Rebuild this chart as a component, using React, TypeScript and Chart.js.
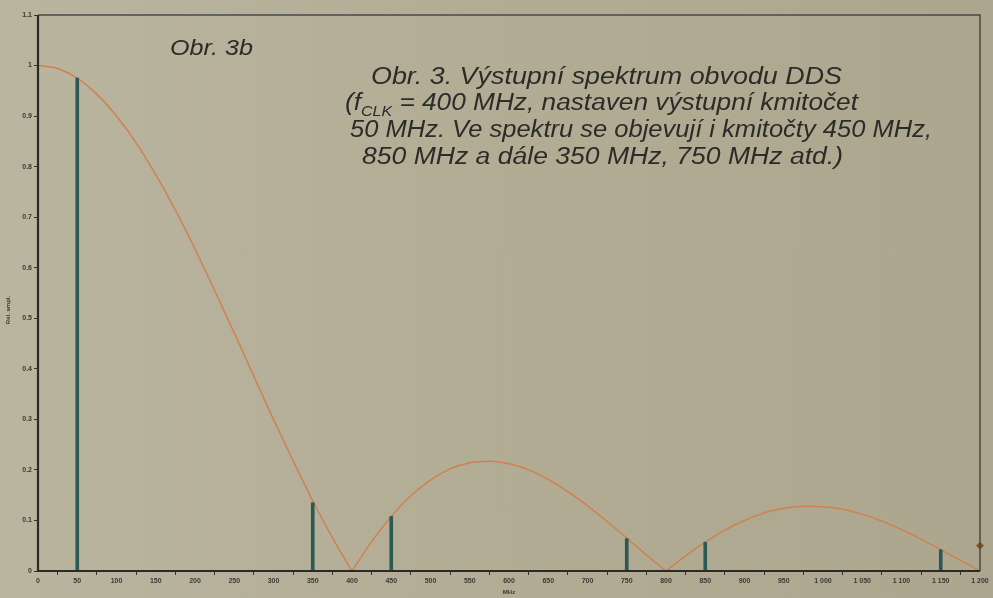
import React, { useEffect, useRef } from "react";
import { Chart, registerables } from "chart.js";
Chart.register(...registerables);

// Envelope of the spectrum (relative amplitude), every 25 MHz
const curveFreq = [0, 25, 50, 75, 100, 125, 150, 175, 200, 225, 250, 275, 300, 325, 350, 375, 400, 425, 450, 475, 500, 525, 550, 575, 600, 625, 650, 675, 700, 725, 750, 775, 800, 825, 850, 875, 900, 925, 950, 975, 1000, 1025, 1050, 1075, 1100, 1125, 1150, 1175, 1200];
const curveAmp = [1.0, 0.994, 0.975, 0.943, 0.9, 0.847, 0.784, 0.714, 0.637, 0.555, 0.471, 0.385, 0.3, 0.218, 0.139, 0.066, 0.0, 0.058, 0.108, 0.149, 0.18, 0.202, 0.214, 0.217, 0.212, 0.2, 0.181, 0.157, 0.129, 0.098, 0.065, 0.032, 0.0, 0.03, 0.057, 0.081, 0.1, 0.115, 0.124, 0.128, 0.127, 0.122, 0.112, 0.099, 0.082, 0.063, 0.042, 0.021, 0.0];
// lobe boundaries (the zeros of the envelope), in MHz
const lobeEdges = [0, 400, 800, 1200];

// Spectral lines
const lineFreq = [50, 350, 450, 750, 850, 1150];
const lineAmp = [0.975, 0.135, 0.108, 0.064, 0.057, 0.042];

// Small cursor mark on the right edge
const markFreq = [1200];
const markAmp = [0.05];

const xTickLabels = ["0", "50", "100", "150", "200", "250", "300", "350", "400", "450", "500", "550", "600", "650", "700", "750", "800", "850", "900", "950", "1 000", "1 050", "1 100", "1 150", "1 200"];
const yTickLabels = ["0", "0.1", "0.2", "0.3", "0.4", "0.5", "0.6", "0.7", "0.8", "0.9", "1", "1.1"];

const yTitle = "Rel. ampl.";
const xTitle = "MHz";
const figLabel = "Obr. 3b";
const captionLines = [
  "Obr. 3. Výstupní spektrum obvodu DDS",
  "(f|CLK| = 400 MHz, nastaven výstupní kmitočet",
  "50 MHz. Ve spektru se objevují i kmitočty 450 MHz,",
  "850 MHz a dále 350 MHz, 750 MHz atd.)",
];

const FONT = "'Liberation Sans', Arial, sans-serif";

export default function App() {
  const ref = useRef<HTMLCanvasElement>(null);

  useEffect(() => {
    document.body.style.margin = "0";
    const canvas = ref.current!;
    const ctx = canvas.getContext("2d")!;

    // draws a line (with optional |subscript| parts) stretched to a target width
    const drawLine = (c: CanvasRenderingContext2D, line: string, x0: number, base: number, size: number, targetW: number) => {
      const parts = line.split("|");
      const fontMain = "italic " + size + "px " + FONT;
      const fontSub = "italic " + Math.round(size * 0.6) + "px " + FONT;
      let w = 0;
      parts.forEach((p, k) => {
        c.font = k % 2 === 1 ? fontSub : fontMain;
        w += c.measureText(p).width;
      });
      const sx = targetW / w;
      c.save();
      c.translate(x0, base);
      c.scale(sx, 1);
      let x = 0;
      parts.forEach((p, k) => {
        if (k % 2 === 1) {
          c.font = fontSub;
          c.fillText(p, x, size * 0.25);
        } else {
          c.font = fontMain;
          c.fillText(p, x, 0);
        }
        x += c.measureText(p).width;
      });
      c.restore();
    };

    const decor = {
      id: "decor",
      afterDraw(chart: any) {
        const c = chart.ctx;
        const a = chart.chartArea;
        c.save();
        // frame
        c.strokeStyle = "#4a4a44";
        c.lineWidth = 1.5;
        c.beginPath();
        c.moveTo(a.left, a.top);
        c.lineTo(a.right, a.top);
        c.lineTo(a.right, a.bottom);
        c.stroke();
        c.strokeStyle = "#2a2a26";
        c.lineWidth = 2.2;
        c.beginPath();
        c.moveTo(a.left, a.top);
        c.lineTo(a.left, a.bottom);
        c.lineTo(a.right, a.bottom);
        c.stroke();

        // axis titles
        c.fillStyle = "#3a3a36";
        c.font = "bold 6px " + FONT;
        c.textAlign = "center";
        c.textBaseline = "middle";
        c.fillText(xTitle, (a.left + a.right) / 2, 592);
        c.save();
        c.translate(8, 310);
        c.rotate(-Math.PI / 2);
        c.fillText(yTitle, 0, 0);
        c.restore();

        // figure label and caption
        c.fillStyle = "#2b2b28";
        c.textAlign = "left";
        c.textBaseline = "alphabetic";
        drawLine(c, figLabel, 170, 55, 22, 83);
        const starts = [371, 345, 350, 362];
        const ends = [842, 858, 932, 843];
        const bases = [84, 110, 137, 164];
        captionLines.forEach((line, i) => {
          drawLine(c, line, starts[i], bases[i], 23, ends[i] - starts[i]);
        });
        c.restore();
      },
    };

    const pts = curveFreq.map((x, i) => ({ x, y: curveAmp[i] }));
    const lobes = lobeEdges.slice(0, -1).map((lo, k) => {
      const hi = lobeEdges[k + 1];
      return {
        type: "line",
        data: pts.filter((p) => p.x >= lo && p.x <= hi),
        borderColor: "#cf8150",
        borderWidth: 1.5,
        pointRadius: 0,
        cubicInterpolationMode: "monotone",
        order: 2,
      } as any;
    });

    const chart = new Chart(ctx, {
      type: "line",
      data: {
        datasets: [
          ...lobes,
          {
            type: "bar",
            data: lineFreq.map((x, i) => ({ x, y: lineAmp[i] })),
            backgroundColor: "#2b5a55",
            borderWidth: 0,
            barThickness: 3,
            grouped: false,
            order: 1,
          } as any,
          {
            type: "scatter",
            data: markFreq.map((x, i) => ({ x, y: markAmp[i] })),
            backgroundColor: "#8a5520",
            borderColor: "#8a5520",
            pointStyle: "rectRot",
            pointRadius: 3.5,
            clip: false,
            order: 0,
          } as any,
        ],
      },
      options: {
        animation: false,
        responsive: false,
        maintainAspectRatio: false,
        layout: { padding: { top: 15, right: 13, left: 0, bottom: 0 } },
        plugins: { legend: { display: false }, tooltip: { enabled: false } },
        scales: {
          x: {
            type: "linear",
            min: 0,
            max: 1200,
            offset: false,
            border: { display: false },
            grid: { drawOnChartArea: false, drawTicks: true, tickLength: 4, color: "#333", lineWidth: 1 },
            ticks: {
              stepSize: 50,
              autoSkip: false,
              maxRotation: 0,
              padding: 2,
              color: "#3a3a36",
              font: { size: 7, family: FONT, weight: "bold" },
              callback: (_v: any, i: number) => xTickLabels[i],
            },
            afterFit: (s: any) => { s.height = 27; },
          },
          y: {
            type: "linear",
            min: 0,
            max: 1.1,
            border: { display: false },
            grid: { drawOnChartArea: false, drawTicks: true, tickLength: 4, color: "#333", lineWidth: 1 },
            ticks: {
              stepSize: 0.1,
              autoSkip: false,
              padding: 2,
              color: "#3a3a36",
              font: { size: 7, family: FONT, weight: "bold" },
              callback: (_v: any, i: number) => yTickLabels[i],
            },
            afterFit: (s: any) => { s.width = 38; },
          },
        },
      } as any,
      plugins: [decor],
    });
    return () => chart.destroy();
  }, []);

  return (
    <div
      style={{
        width: 993,
        height: 598,
        background: "linear-gradient(90deg, #bab59f 0%, #b3ad96 45%, #aca68f 100%)",
      }}
    >
      <canvas ref={ref} width={993} height={598} style={{ display: "block" }} />
    </div>
  );
}
